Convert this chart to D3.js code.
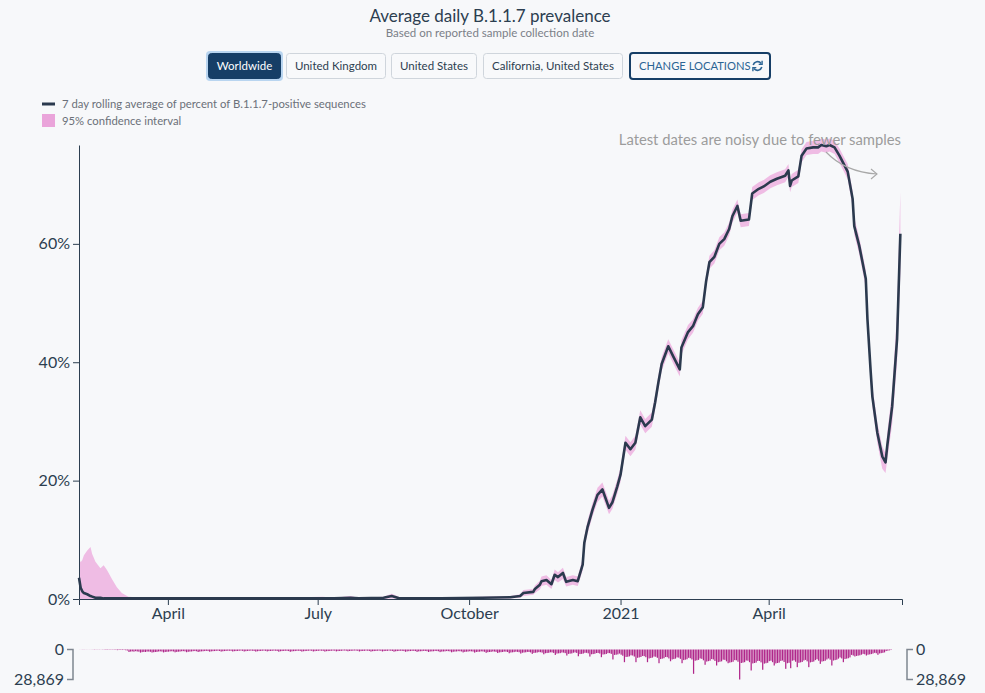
<!DOCTYPE html>
<html>
<head>
<meta charset="utf-8">
<script src="https://cdn.jsdelivr.net/npm/d3@7"></script>
<style>
  body { margin: 0; background: #f7f8fa; }
  svg text { font-family: Lato, "Noto Sans", sans-serif; }
</style>
</head>
<body>
<div id="chart"></div>
<script>

// 7 day rolling average (%) and 95% CI
var lineDates = [
  "2020-02-07","2020-02-08","2020-02-09","2020-02-10","2020-02-12","2020-02-14","2020-02-15","2020-02-17",
  "2020-02-20","2020-02-22","2020-02-24","2020-02-27","2020-03-01","2020-03-04","2020-03-08","2020-03-18",
  "2020-04-27","2020-06-06","2020-07-04","2020-07-11","2020-07-21","2020-07-26","2020-08-10","2020-08-15",
  "2020-08-20","2020-09-14","2020-10-09","2020-10-26","2020-11-01","2020-11-03","2020-11-09","2020-11-10",
  "2020-11-13","2020-11-14","2020-11-17","2020-11-20","2020-11-22","2020-11-24","2020-11-27","2020-11-29",
  "2020-12-03","2020-12-06","2020-12-09","2020-12-10","2020-12-12","2020-12-15","2020-12-18","2020-12-21",
  "2020-12-25","2020-12-27","2020-12-30","2021-01-01","2021-01-04","2021-01-07","2021-01-10","2021-01-13",
  "2021-01-16","2021-01-20","2021-01-22","2021-01-24","2021-01-26","2021-01-30","2021-02-02","2021-02-06",
  "2021-02-07","2021-02-11","2021-02-14","2021-02-17","2021-02-20","2021-02-22","2021-02-24","2021-02-27",
  "2021-03-02","2021-03-05","2021-03-08","2021-03-10","2021-03-13","2021-03-15","2021-03-20","2021-03-22",
  "2021-03-26","2021-03-29","2021-04-02","2021-04-06","2021-04-11","2021-04-13","2021-04-14","2021-04-15",
  "2021-04-19","2021-04-21","2021-04-24","2021-04-28","2021-05-01","2021-05-03","2021-05-06","2021-05-08",
  "2021-05-11","2021-05-14","2021-05-19","2021-05-22","2021-05-23","2021-05-26","2021-05-30","2021-05-31",
  "2021-06-02","2021-06-03","2021-06-06","2021-06-09","2021-06-11","2021-06-12","2021-06-15","2021-06-18",
  "2021-06-20"
];
var prevalence = [
  3.6,1.9,1.3,1.0,0.8,0.5,0.4,0.2,
  0.2,0.1,0.1,0.1,0.1,0.1,0.1,0.1,
  0.1,0.1,0.1,0.1,0.2,0.1,0.2,0.5,
  0.1,0.1,0.2,0.3,0.5,1.0,1.2,1.7,
  2.4,3.0,3.2,2.5,4.1,3.7,4.4,2.9,
  3.2,3.0,5.8,9.5,12.2,15.1,17.6,18.5,
  15.4,16.3,19.0,21.0,26.4,25.3,26.4,30.7,
  29.2,30.3,33.2,36.6,39.7,42.7,41.0,38.8,
  42.5,45.1,46.1,48.1,49.3,53.7,56.9,57.8,
  60.0,60.8,62.5,64.7,66.4,63.9,64.1,68.5,
  69.3,69.7,70.5,71.0,71.5,72.4,69.8,70.7,
  71.4,74.9,76.1,76.3,76.3,76.7,76.5,76.7,
  76.3,74.9,72.2,67.6,63.0,59.7,54.1,47.3,
  38.3,34.2,28.1,24.1,23.1,25.8,32.5,43.9,
  61.7
];
var ciLow = [
  0,0,0,0,0,0,0,0,
  0,0,0,0,0,0,0,0,
  0,0,0,0,0,0,0,0.1,
  0,0,0.1,0.1,0.2,0.5,0.7,1.0,
  1.6,2.2,2.4,1.7,3.2,2.8,3.4,2.1,
  2.4,2.2,4.8,8.5,11.1,14.0,16.4,17.3,
  14.3,15.2,17.8,19.8,25.2,24.1,25.2,29.5,
  28.0,29.1,32.0,35.4,38.5,41.5,39.8,37.6,
  41.3,43.9,45.0,47.0,48.2,52.6,55.8,56.7,
  58.9,59.7,61.4,63.6,65.3,62.8,63.0,67.4,
  68.2,68.6,69.4,69.9,70.4,71.3,68.7,69.6,
  70.3,73.8,75.0,75.2,75.2,75.6,75.4,75.6,
  75.2,73.7,70.9,66.3,61.6,58.3,52.6,45.7,
  36.6,32.5,26.4,22.0,21.3,23.5,29.5,40.0,
  55.0
];
var ciHigh = [
  7.0,6.2,6.6,7.4,8.2,8.8,7.6,6.3,
  5.2,5.7,4.9,3.4,2.0,1.0,0.4,0.2,
  0.2,0.2,0.4,0.2,0.5,0.2,0.4,0.9,
  0.3,0.2,0.4,0.5,0.8,1.5,1.7,2.3,
  3.1,3.8,4.0,3.2,5.0,4.5,5.3,3.7,
  4.0,3.8,6.8,10.5,13.3,16.2,18.8,19.7,
  16.6,17.5,20.2,22.2,27.6,26.5,27.6,31.9,
  30.4,31.5,34.4,37.8,40.9,43.9,42.2,40.0,
  43.7,46.3,47.2,49.2,50.4,54.8,58.0,58.9,
  61.1,61.9,63.6,65.8,67.5,65.0,65.2,69.6,
  70.4,70.8,71.6,72.1,72.6,73.5,70.9,71.8,
  72.5,76.0,77.2,77.4,77.4,77.8,77.6,77.8,
  77.4,76.1,73.5,68.9,64.4,61.1,55.6,48.9,
  40.0,35.9,29.8,25.8,24.6,28.0,35.0,48.5,
  68.8
];

// number of sequences per day, from 2020-02-07
var countStart = "2020-02-07";
var dailyCounts = [
  40,60,150,90,80,70,60,
  90,110,220,160,140,150,120,
  180,210,380,290,260,300,240,
  330,360,620,480,450,500,430,
  700,950,2400,2000,1800,2100,1600,
  1900,2100,3000,2500,2300,2400,2000,
  2000,2200,2900,2600,2400,2300,1900,
  1800,2000,2800,2400,2200,2100,1800,
  1700,1900,2700,2300,2100,2000,1700,
  1600,1800,2600,2200,2000,1900,1600,
  1500,1700,2400,2000,1800,1700,1500,
  1300,1500,2100,1800,1600,1500,1300,
  1200,1400,2000,1700,1500,1400,1200,
  1200,1300,1900,1600,1500,1400,1200,
  1100,1300,1900,1600,1400,1300,1100,
  1200,1400,2000,1700,1500,1400,1200,
  1100,1300,1800,1500,1400,1300,1100,
  1200,1400,2100,1700,1500,1400,1200,
  1300,1500,2200,1800,1600,1500,1300,
  1200,1400,2000,1700,1500,1400,1200,
  1100,1300,1900,1600,1400,1300,1100,
  1200,1300,2000,1600,1500,1400,1200,
  1100,1200,1800,1500,1400,1300,1100,
  1000,1200,1700,1400,1300,1200,1000,
  1100,1300,1900,1500,1400,1300,1100,
  1200,1400,2000,1600,1500,1400,1200,
  1100,1300,1900,1500,1400,1300,1100,
  1200,1400,2100,1700,1500,1400,1200,
  1300,1500,2200,1800,1600,1500,1300,
  1300,1500,2300,1800,1700,1600,1300,
  1400,1600,2400,1900,1800,1700,1400,
  1500,1700,2500,2000,1900,1800,1500,
  1600,1800,2700,2200,2000,1900,1600,
  1700,1900,2800,2300,2100,2000,1700,
  1800,2000,3000,2400,2200,2100,1800,
  1900,2200,3200,2600,2400,2300,1900,
  2000,2300,3400,2800,2600,2400,2000,
  2100,2400,3600,2900,2700,2500,2100,
  2300,2600,3900,3100,2900,2700,2300,
  2400,2800,4200,3300,3100,2900,2500,
  2600,3000,4600,3600,3400,3200,2700,
  2800,3300,5200,3900,3700,3500,2900,
  3000,3500,5800,4200,4000,3800,3100,
  2800,3300,6500,4400,4200,3900,3200,
  3200,3700,6800,4600,4400,4100,3400,
  3400,3900,7400,4800,4600,4300,3500,
  3500,4200,9600,5200,5000,4700,3900,
  5000,6000,12200,7200,7000,6600,5600,
  5800,6800,12200,8000,7600,7200,6200,
  6400,7400,12200,8600,8200,7800,6800,
  7000,8000,13200,9200,8800,8400,7200,
  7400,8600,11300,9600,9200,8800,7600,
  7800,9000,13200,10200,9800,9400,8000,
  8400,9600,23400,10800,10400,10000,8600,
  9000,10400,14700,11600,11200,10800,9200,
  9600,11000,15400,12200,11800,11400,9800,
  10000,11400,13200,12600,12200,11800,10200,
  10400,11800,28869,13000,12600,12200,10600,
  10800,12200,20200,13400,13000,12600,11000,
  11000,12400,19500,13600,13200,12800,11200,
  10800,12200,15400,13400,13000,12600,11000,
  10600,12000,18600,13200,12800,18000,10800,
  10400,11800,17000,12800,12400,12000,10600,
  10000,11400,17000,12400,12000,11600,10200,
  9400,10800,13800,11600,11200,10800,9600,
  8600,9800,15400,10600,10200,9800,8800,
  7600,8600,12200,9200,8800,8400,7600,
  5200,5800,6700,6200,5900,5600,5000,
  4200,4600,5800,5000,4700,4400,3900,
  3200,3600,5100,3800,3500,3200,2800,
  1500,1100,800,500
];

var xDomain = ["2020-02-07", "2021-06-21"];
var xTickDates = ["2020-04-01","2020-07-01","2020-10-01","2021-01-01","2021-04-01"];
var xTickLabels = ["April","July","October","2021","April"];
var yTicks = [0, 20, 40, 60];
var locations = ["Worldwide","United Kingdom","United States","California, United States"];

// ---- set up
var svgWidth = 985, svgHeight = 693;
var margin = {top: 145, right: 83, bottom: 94, left: 79};
var width = svgWidth - margin.left - margin.right;
var height = svgHeight - margin.top - margin.bottom;
var ink = "#2c3e50";

var parse = d3.timeParse("%Y-%m-%d");

var svg = d3.select("#chart").append("svg")
  .attr("width", svgWidth)
  .attr("height", svgHeight)
  .style("background", "#f7f8fa");

// title
svg.append("text").attr("x", 490).attr("y", 22)
  .attr("text-anchor", "middle").style("font-size", "17px").style("fill", ink)
  .text("Average daily B.1.1.7 prevalence");
svg.append("text").attr("x", 490).attr("y", 37)
  .attr("text-anchor", "middle").style("font-size", "11.5px").style("fill", "#7b8088")
  .text("Based on reported sample collection date");

// location buttons
var btnX = [208, 286, 391, 483], btnW = [73, 100, 86, 140];
var btns = svg.append("g").attr("transform", "translate(0,53)");
locations.forEach(function(loc, i) {
  var g = btns.append("g").attr("transform", "translate(" + btnX[i] + ",0)");
  if (i === 0) {
    g.append("rect").attr("x", -2).attr("y", -2).attr("width", btnW[i] + 4).attr("height", 30)
      .attr("rx", 4).attr("fill", "#b9d5f0");
  }
  g.append("rect").attr("x", 0.5).attr("y", 0.5).attr("width", btnW[i] - 1).attr("height", 25)
    .attr("rx", 3)
    .attr("fill", i === 0 ? "#163e66" : "#f8f9fb")
    .attr("stroke", i === 0 ? "#163e66" : "#cfd5dc");
  g.append("text").attr("x", btnW[i] / 2).attr("y", 17)
    .attr("text-anchor", "middle").style("font-size", "11.5px")
    .style("fill", i === 0 ? "#ffffff" : ink)
    .text(loc);
});
var change = btns.append("g").attr("transform", "translate(629,0)");
change.append("rect").attr("x", 1).attr("y", 0).attr("width", 140).attr("height", 26)
  .attr("rx", 3).attr("fill", "none").attr("stroke", "#163e66").attr("stroke-width", 2);
change.append("text").attr("x", 10).attr("y", 17).style("font-size", "11.2px")
  .style("fill", "#2b6494").text("CHANGE LOCATIONS");
var icon = change.append("g").attr("transform", "translate(128.5,13)")
  .attr("fill", "none").attr("stroke", "#2b6494").attr("stroke-width", 1.6);
icon.append("path").attr("d", "M-4.3,-1 A4.5,4.5 0 0 1 3.6,-2.6");
icon.append("path").attr("d", "M4.3,1 A4.5,4.5 0 0 1 -3.6,2.6");
icon.append("path").attr("d", "M4.6,-5.2 L4.6,-1.6 L1.2,-1.6").attr("stroke-width", 1.4);
icon.append("path").attr("d", "M-4.6,5.2 L-4.6,1.6 L-1.2,1.6").attr("stroke-width", 1.4);

// legend
var legend = svg.append("g").attr("transform", "translate(42,104)");
legend.append("line").attr("x1", 0).attr("x2", 13).attr("y1", 0).attr("y2", 0)
  .attr("stroke", "#2b3a4e").attr("stroke-width", 3);
legend.append("text").attr("x", 20).attr("y", 4).style("font-size", "11.3px").style("fill", "#6b7079")
  .text("7 day rolling average of percent of B.1.1.7-positive sequences");
legend.append("rect").attr("x", 0).attr("y", 10).attr("width", 13).attr("height", 13)
  .attr("fill", "#eaa4da");
legend.append("text").attr("x", 20).attr("y", 21).style("font-size", "11.3px").style("fill", "#6b7079")
  .text("95% confidence interval");

// scales
var xScale = d3.scaleTime()
  .domain(xDomain.map(parse))
  .range([margin.left, margin.left + width]);

var yScale = d3.scaleLinear()
  .domain([0, d3.max(prevalence)])
  .range([margin.top + height, margin.top]);

var series = lineDates.map(function(d, i) {
  return {date: parse(d), value: prevalence[i], lo: ciLow[i], hi: ciHigh[i]};
});

// confidence band
var area = d3.area()
  .x(d => xScale(d.date))
  .y0(d => yScale(d.lo))
  .y1(d => yScale(d.hi));

svg.append("path").datum(series)
  .attr("d", area)
  .attr("fill", "#eba3da")
  .attr("opacity", 0.7);

// axes
var bottomAxis = d3.axisBottom(xScale)
  .tickValues(xTickDates.map(parse))
  .tickFormat((d, i) => xTickLabels[i]);
var leftAxis = d3.axisLeft(yScale)
  .tickValues(yTicks)
  .tickFormat(d => d + "%")
  .tickSizeOuter(0);

var gx = svg.append("g")
  .attr("transform", `translate(0, ${margin.top + height})`)
  .call(bottomAxis);
var gy = svg.append("g")
  .attr("transform", `translate(${margin.left}, 0)`)
  .call(leftAxis);

[gx, gy].forEach(function(g) {
  g.select(".domain").attr("stroke", ink);
  g.selectAll(".tick line").attr("stroke", ink);
  g.selectAll(".tick text").style("font-size", "16px").style("fill", ink)
    .style("font-family", "Lato, sans-serif");
});

// the line
var line = d3.line()
  .x(d => xScale(d.date))
  .y(d => yScale(d.value));

svg.append("path").datum(series)
  .attr("d", line)
  .attr("fill", "none")
  .attr("stroke", "#2b3a4e")
  .attr("stroke-width", 2.6)
  .attr("stroke-linejoin", "round");

// annotation
svg.append("text").attr("x", 901).attr("y", 145)
  .attr("text-anchor", "end").style("font-size", "14.8px").style("fill", "#9c9c9c")
  .text("Latest dates are noisy due to fewer samples");
svg.append("path").attr("d", "M826,152 Q845,172 877,174")
  .attr("fill", "none").attr("stroke", "#a8a8a8").attr("stroke-width", 1.1);
svg.append("path").attr("d", "M871,169 L877,174 L871,179")
  .attr("fill", "none").attr("stroke", "#a8a8a8").attr("stroke-width", 1.1);

// sequence counts below
var countTop = 649.5;
var start = parse(countStart);
var counts = dailyCounts.map(function(c, i) {
  return {date: d3.timeDay.offset(start, i), count: c};
});
var maxCount = d3.max(dailyCounts);
var hScale = d3.scaleLinear().domain([0, maxCount]).range([0, 30]);
var dayW = xScale(d3.timeDay.offset(start, 1)) - xScale(start);

svg.append("g").selectAll("rect")
  .data(counts)
  .enter()
  .append("rect")
  .attr("x", d => xScale(d.date))
  .attr("y", countTop)
  .attr("width", dayW * 0.75)
  .attr("height", d => hScale(d.count))
  .attr("fill", "#b0268a");

function bracket(x, dir) {
  var g = svg.append("g");
  g.append("path")
    .attr("d", `M${x + dir * 6},${countTop} H${x} V${countTop + 30} H${x + dir * 6}`)
    .attr("fill", "none").attr("stroke", "#7f8690").attr("stroke-width", 1.5);
  [[0, countTop], [maxCount, countTop + 30]].forEach(function(t) {
    g.append("text")
      .attr("x", x + dir * 9)
      .attr("y", t[1])
      .attr("dy", "0.35em")
      .attr("text-anchor", dir < 0 ? "end" : "start")
      .style("font-size", "16px").style("fill", ink)
      .text(d3.format(",")(t[0]));
  });
}
bracket(73, -1);
bracket(907, 1);

</script>
</body>
</html>
